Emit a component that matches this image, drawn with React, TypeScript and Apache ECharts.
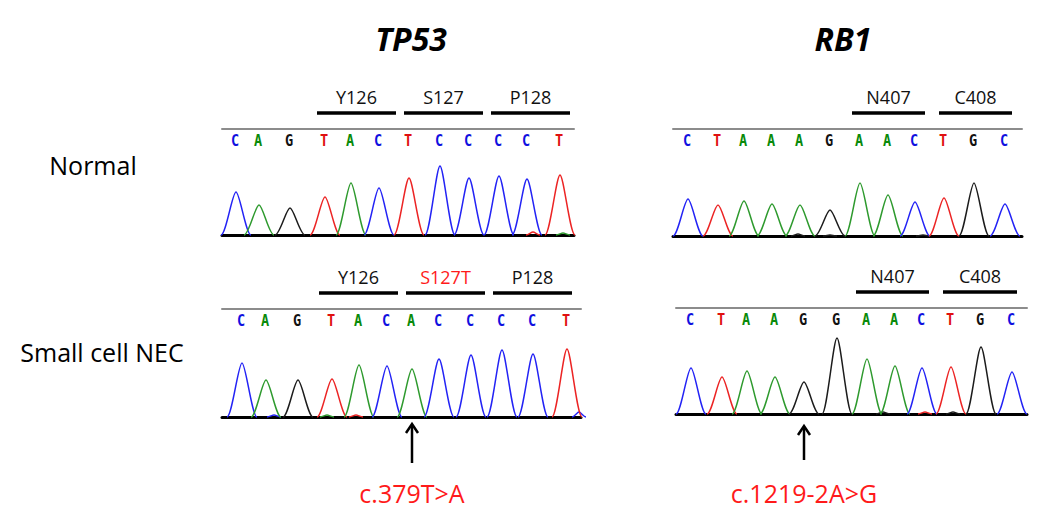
import React, { useEffect, useRef } from 'react';
import * as echarts from 'echarts';

// ---------- DATA ----------
const TP53_NORMAL_BASES = ['C', 'A', 'G', 'T', 'A', 'C', 'T', 'C', 'C', 'C', 'C', 'T'];
const TP53_NORMAL_POS = [14, 37, 68, 103, 129, 157, 187, 218, 247, 277, 305, 338];
const TP53_NORMAL_HEIGHT = [43, 30, 27, 38, 52, 47, 57, 69, 57, 59, 56, 60];
const TP53_NORMAL_CODONS = ['Y126', 'S127', 'P128'];
const TP53_NORMAL_CODON_SPANS = [[95, 174], [182, 261], [269, 348]];
const TP53_NORMAL_MINOR = [{ base: 'T', pos: 311, h: 3 }, { base: 'A', pos: 341, h: 2 }];

const RB1_NORMAL_BASES = ['C', 'T', 'A', 'A', 'A', 'G', 'A', 'A', 'C', 'T', 'G', 'C'];
const RB1_NORMAL_POS = [15, 45, 71, 99, 127, 157, 187, 215, 242, 271, 301, 332];
const RB1_NORMAL_HEIGHT = [37, 31, 35, 32, 31, 26, 53, 41, 34, 38, 53, 32];
const RB1_NORMAL_CODONS = ['N407', 'C408'];
const RB1_NORMAL_CODON_SPANS = [[179, 252], [266, 339]];
const RB1_NORMAL_MINOR = [{ base: 'G', pos: 125, h: 2 }, { base: 'G', pos: 157, h: 1 }, { base: 'G', pos: 250, h: 1 }];

const TP53_NEC_BASES = ['C', 'A', 'G', 'T', 'A', 'C', 'A', 'C', 'C', 'C', 'C', 'T'];
const TP53_NEC_POS = [20, 44, 76, 110, 137, 165, 190, 217, 249, 280, 311, 345];
const TP53_NEC_HEIGHT = [54, 37, 37, 38, 52, 51, 48, 58, 62, 67, 63, 68];
const TP53_NEC_CODONS = ['Y126', 'S127T', 'P128'];
const TP53_NEC_CODON_SPANS = [[97, 176], [184, 263], [271, 350]];
const TP53_NEC_MINOR = [{ base: 'C', pos: 52, h: 2 }, { base: 'A', pos: 105, h: 2 }, { base: 'T', pos: 134, h: 2 }, { base: 'C', pos: 357, h: 5 }];
const TP53_NEC_MUTATION = { index: 6, label: 'c.379T>A' };

const RB1_NEC_BASES = ['C', 'T', 'A', 'A', 'G', 'G', 'A', 'A', 'C', 'T', 'G', 'C'];
const RB1_NEC_POS = [15, 46, 71, 99, 128, 161, 191, 219, 246, 275, 305, 336];
const RB1_NEC_HEIGHT = [46, 37, 43, 37, 32, 76, 55, 48, 46, 47, 67, 42];
const RB1_NEC_CODONS = ['N407', 'C408'];
const RB1_NEC_CODON_SPANS = [[180, 253], [267, 341]];
const RB1_NEC_MINOR = [{ base: 'G', pos: 207, h: 2 }, { base: 'T', pos: 249, h: 2 }, { base: 'G', pos: 277, h: 2 }];
const RB1_NEC_MUTATION = { index: 4, label: 'c.1219-2A>G' };

const GENES = ['TP53', 'RB1'];
const ROWS = ['Normal', 'Small cell NEC'];

// ---------- STYLE ----------
const PEAK_COLOR: Record<string, string> = { A: '#2e9a2e', C: '#2323f5', G: '#1c1c1c', T: '#ec2424' };
const LETTER_COLOR: Record<string, string> = { A: '#0a8a0a', C: '#1010e0', G: '#111111', T: '#e01010' };
const FONT = '"Open Sans", "DejaVu Sans", sans-serif';

const PANELS = [
  { bases: TP53_NORMAL_BASES, pos: TP53_NORMAL_POS, h: TP53_NORMAL_HEIGHT, codons: TP53_NORMAL_CODONS, spans: TP53_NORMAL_CODON_SPANS, minor: TP53_NORMAL_MINOR, mutation: null as any, left: 222, width: 352, top: 129, baseline: 235, arrowTip: 7 },
  { bases: RB1_NORMAL_BASES, pos: RB1_NORMAL_POS, h: RB1_NORMAL_HEIGHT, codons: RB1_NORMAL_CODONS, spans: RB1_NORMAL_CODON_SPANS, minor: RB1_NORMAL_MINOR, mutation: null as any, left: 673, width: 349, top: 129, baseline: 236, arrowTip: 7 },
  { bases: TP53_NEC_BASES, pos: TP53_NEC_POS, h: TP53_NEC_HEIGHT, codons: TP53_NEC_CODONS, spans: TP53_NEC_CODON_SPANS, minor: TP53_NEC_MINOR, mutation: TP53_NEC_MUTATION, left: 222, width: 359, top: 309, baseline: 417, arrowTip: 7 },
  { bases: RB1_NEC_BASES, pos: RB1_NEC_POS, h: RB1_NEC_HEIGHT, codons: RB1_NEC_CODONS, spans: RB1_NEC_CODON_SPANS, minor: RB1_NEC_MINOR, mutation: RB1_NEC_MUTATION, left: 676, width: 351, top: 308, baseline: 414, arrowTip: 12 },
];

const HALF_WIDTH = 15;

function peakPath(api: any, x: number, h: number, hw: number) {
  const c = (dx: number, y: number) => api.coord([x + dx, y]);
  const p = [c(-hw, 0), c(-hw * 0.667, 0), c(-hw * 0.247, h), c(0, h), c(hw * 0.247, h), c(hw * 0.667, 0), c(hw, 0)];
  const f = (q: number[]) => q[0].toFixed(2) + ' ' + q[1].toFixed(2);
  return `M ${f(p[0])} C ${f(p[1])} ${f(p[2])} ${f(p[3])} C ${f(p[4])} ${f(p[5])} ${f(p[6])}`;
}

function buildOption() {
  const grid: any[] = [];
  const xAxis: any[] = [];
  const yAxis: any[] = [];
  const series: any[] = [];

  PANELS.forEach((pn, i) => {
    const height = pn.baseline - pn.top;
    grid.push({ left: pn.left, top: pn.top, width: pn.width, height });
    xAxis.push({
      type: 'value', gridIndex: i, min: 0, max: pn.width, position: 'bottom',
      axisLine: { show: true, onZero: false, lineStyle: { color: '#000', width: 3 } },
      axisTick: { show: false }, axisLabel: { show: false }, splitLine: { show: false },
    });
    xAxis.push({
      type: 'value', gridIndex: i, min: 0, max: pn.width, position: 'top',
      axisLine: { show: true, onZero: false, lineStyle: { color: '#8c8c8c', width: 2 } },
      axisTick: { show: false }, axisLabel: { show: false }, splitLine: { show: false },
    });
    yAxis.push({ type: 'value', gridIndex: i, min: 0, max: height, show: false });

    const xIdx = 2 * i;

    // minor background peaks
    series.push({
      type: 'custom', xAxisIndex: xIdx, yAxisIndex: i, z: 3,
      data: pn.minor.map((m: any) => [m.pos, m.h]),
      renderItem: (params: any, api: any) => {
        const m = pn.minor[params.dataIndex];
        return {
          type: 'path',
          shape: { pathData: peakPath(api, api.value(0), api.value(1), 7) },
          style: { fill: 'none', stroke: PEAK_COLOR[m.base], lineWidth: 1.4 },
        };
      },
    });

    // main peaks
    series.push({
      type: 'custom', xAxisIndex: xIdx, yAxisIndex: i, z: 4,
      data: pn.pos.map((p, k) => [p, pn.h[k]]),
      renderItem: (params: any, api: any) => {
        const b = pn.bases[params.dataIndex];
        return {
          type: 'path',
          shape: { pathData: peakPath(api, api.value(0), api.value(1), HALF_WIDTH) },
          style: { fill: 'none', stroke: PEAK_COLOR[b], lineWidth: 1.5 },
        };
      },
    });

    // base letters
    series.push({
      type: 'custom', xAxisIndex: xIdx, yAxisIndex: i, z: 5,
      data: pn.pos.map((p) => [p, height]),
      renderItem: (params: any, api: any) => {
        const b = pn.bases[params.dataIndex];
        const pt = api.coord([api.value(0), api.value(1)]);
        return {
          type: 'text',
          x: pt[0] - 1, y: pt[1] + 11, scaleX: 0.85,
          style: {
            text: b, x: 0, y: 0,
            fill: LETTER_COLOR[b], font: 'bold 16px "DejaVu Sans Mono", monospace',
            align: 'center', verticalAlign: 'middle',
          },
        };
      },
    });

    // codon bars and labels
    series.push({
      type: 'custom', xAxisIndex: xIdx, yAxisIndex: i, z: 5,
      data: pn.spans.map((s) => [s[0], s[1], height]),
      renderItem: (params: any, api: any) => {
        const label = pn.codons[params.dataIndex];
        const a = api.coord([api.value(0), api.value(2)]);
        const b = api.coord([api.value(1), api.value(2)]);
        const y = a[1] - 16;
        return {
          type: 'group',
          children: [
            { type: 'line', shape: { x1: a[0], y1: y, x2: b[0], y2: y }, style: { stroke: '#000', lineWidth: 3.5 } },
            {
              type: 'text',
              style: {
                text: label, x: (a[0] + b[0]) / 2, y: y - 16,
                fill: label.endsWith('T') ? '#ff1a1a' : '#111', font: '18px ' + FONT,
                align: 'center', verticalAlign: 'middle',
              },
            },
          ],
        };
      },
    });

    // mutation arrow and label
    if (pn.mutation) {
      const mut = pn.mutation;
      series.push({
        type: 'custom', xAxisIndex: xIdx, yAxisIndex: i, z: 6,
        data: [[pn.pos[mut.index], 0]],
        renderItem: (params: any, api: any) => {
          const pt = api.coord([api.value(0), api.value(1)]);
          const x = pt[0];
          const tip = pt[1] + pn.arrowTip;
          const bottom = pt[1] + 46;
          return {
            type: 'group',
            children: [
              { type: 'line', shape: { x1: x, y1: tip + 1, x2: x, y2: bottom }, style: { stroke: '#000', lineWidth: 2.5 } },
              { type: 'polyline', shape: { points: [[x - 6, tip + 9], [x, tip], [x + 6, tip + 9]] }, style: { stroke: '#000', lineWidth: 2.5, fill: 'none' } },
              {
                type: 'text',
                style: {
                  text: mut.label, x, y: 493,
                  fill: '#ff1a1a', font: '25px ' + FONT,
                  align: 'center', verticalAlign: 'middle',
                },
              },
            ],
          };
        },
      });
    }
  });

  const graphic: any[] = [
    { type: 'text', x: 411, y: 38, style: { text: GENES[0], font: 'italic bold 32px ' + FONT, fill: '#000', align: 'center', verticalAlign: 'middle' } },
    { type: 'text', x: 843, y: 38, style: { text: GENES[1], font: 'italic bold 32px ' + FONT, fill: '#000', align: 'center', verticalAlign: 'middle' } },
    { type: 'text', x: 93, y: 165, style: { text: ROWS[0], font: '25px ' + FONT, fill: '#000', align: 'center', verticalAlign: 'middle' } },
    { type: 'text', x: 102, y: 352, style: { text: ROWS[1], font: '25px ' + FONT, fill: '#000', align: 'center', verticalAlign: 'middle' } },
  ];

  return { animation: false, backgroundColor: '#fff', grid, xAxis, yAxis, series, graphic };
}

export default function App() {
  const ref = useRef<HTMLDivElement>(null);
  useEffect(() => {
    if (!ref.current) return;
    const chart = echarts.init(ref.current, null, { renderer: 'svg' });
    chart.setOption(buildOption() as any);
    return () => chart.dispose();
  }, []);
  return <div ref={ref} style={{ position: 'fixed', left: 0, top: 0, width: 1050, height: 526 }} />;
}
